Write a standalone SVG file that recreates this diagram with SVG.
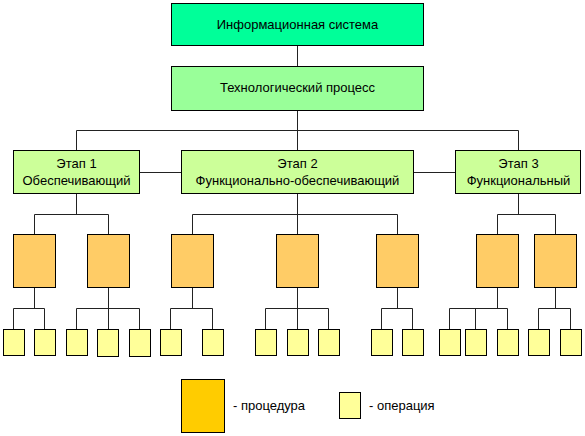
<svg xmlns="http://www.w3.org/2000/svg" width="585" height="436" viewBox="0 0 585 436">
<style>
rect{stroke:#000;stroke-width:1}
.sys{fill:#00FF99}
.tp{fill:#99FF99}
.st{fill:#CCFF99}
.pr{fill:#FFCC66}
.op{fill:#FFFF99}
.lp{fill:#FFCC00}
text{font-family:"Liberation Sans",Arial,sans-serif;font-size:13px;fill:#000}
.c{text-anchor:middle}
#connectors path{stroke:#222;stroke-width:1;fill:none}
</style>
<rect x="0" y="0" width="585" height="436" style="fill:#fff;stroke:none"/>
<g id="connectors">
<path d="M297.5 45.5V66.5M297.5 110.5V150.5M76.5 130.5H518.5M76.5 130.5V150.5M518.5 130.5V150.5"/>
<path d="M139.5 172.5H181.5M413.5 172.5H455.5"/>
<path d="M76.5 193.5V214.5M34.5 214.5H108.5M34.5 214.5V234.5M108.5 214.5V234.5"/>
<path d="M297.5 193.5V234.5M192.5 214.5H397.5M192.5 214.5V234.5M397.5 214.5V234.5"/>
<path d="M518.5 193.5V214.5M497.5 214.5H555.5M497.5 214.5V234.5M555.5 214.5V234.5"/>
<path d="M34.5 287.5V308.5M13.5 308.5H44.5M13.5 308.5V329.5M44.5 308.5V329.5"/>
<path d="M108.5 287.5V329.5M76.5 308.5H139.5M76.5 308.5V329.5M139.5 308.5V329.5"/>
<path d="M192.5 287.5V308.5M170.5 308.5H212.5M170.5 308.5V329.5M212.5 308.5V329.5"/>
<path d="M297.5 287.5V329.5M265.5 308.5H328.5M265.5 308.5V329.5M328.5 308.5V329.5"/>
<path d="M397.5 287.5V308.5M381.5 308.5H412.5M381.5 308.5V329.5M412.5 308.5V329.5"/>
<path d="M497.5 287.5V308.5M449.5 308.5H507.5M449.5 308.5V329.5M475.5 308.5V329.5M507.5 308.5V329.5"/>
<path d="M555.5 287.5V308.5M538.5 308.5H570.5M538.5 308.5V329.5M570.5 308.5V329.5"/>
</g>
<g id="sys"><rect class="sys" x="171.5" y="3.5" width="252" height="42"/><text class="c" x="297.5" y="29">Информационная система</text></g>
<g id="tech"><rect class="tp" x="171.5" y="66.5" width="252" height="44"/><text class="c" x="297.5" y="91.5">Технологический процесс</text></g>
<g id="stage1"><rect class="st" x="13.5" y="150.5" width="126" height="43"/><text class="c" x="76.5" y="168">Этап 1</text><text class="c" x="76.5" y="185">Обеспечивающий</text></g>
<g id="stage2"><rect class="st" x="181.5" y="150.5" width="232" height="43"/><text class="c" x="297.5" y="168">Этап 2</text><text class="c" x="297.5" y="185">Функционально-обеспечивающий</text></g>
<g id="stage3"><rect class="st" x="455.5" y="150.5" width="125" height="43"/><text class="c" x="518.5" y="168">Этап 3</text><text class="c" x="518.5" y="185">Функциональный</text></g>
<g id="procedures">
<rect class="pr" x="13.5" y="234.5" width="42" height="53"/>
<rect class="pr" x="87.5" y="234.5" width="42" height="53"/>
<rect class="pr" x="171.5" y="234.5" width="42" height="53"/>
<rect class="pr" x="276.5" y="234.5" width="42" height="53"/>
<rect class="pr" x="376.5" y="234.5" width="42" height="53"/>
<rect class="pr" x="476.5" y="234.5" width="42" height="53"/>
<rect class="pr" x="534.5" y="234.5" width="42" height="53"/>
</g>
<g id="operations">
<rect class="op" x="3.5" y="329.5" width="21" height="26"/>
<rect class="op" x="34.5" y="329.5" width="21" height="26"/>
<rect class="op" x="66.5" y="329.5" width="21" height="26"/>
<rect class="op" x="97.5" y="329.5" width="21" height="27"/>
<rect class="op" x="129.5" y="329.5" width="21" height="27"/>
<rect class="op" x="160.5" y="329.5" width="21" height="26"/>
<rect class="op" x="202.5" y="329.5" width="21" height="26"/>
<rect class="op" x="255.5" y="329.5" width="21" height="26"/>
<rect class="op" x="287.5" y="329.5" width="21" height="26"/>
<rect class="op" x="318.5" y="329.5" width="21" height="26"/>
<rect class="op" x="371.5" y="329.5" width="21" height="26"/>
<rect class="op" x="402.5" y="329.5" width="21" height="26"/>
<rect class="op" x="439.5" y="329.5" width="21" height="26"/>
<rect class="op" x="465.5" y="329.5" width="21" height="26"/>
<rect class="op" x="497.5" y="329.5" width="21" height="26"/>
<rect class="op" x="528.5" y="329.5" width="21" height="26"/>
<rect class="op" x="560.5" y="329.5" width="21" height="26"/>
</g>
<g id="legend">
<rect class="lp" x="181.5" y="379.5" width="43" height="53"/>
<text x="233" y="410">- процедура</text>
<rect class="op" x="339.5" y="392.5" width="21" height="26"/>
<text x="369" y="410">- операция</text>
</g>
</svg>
